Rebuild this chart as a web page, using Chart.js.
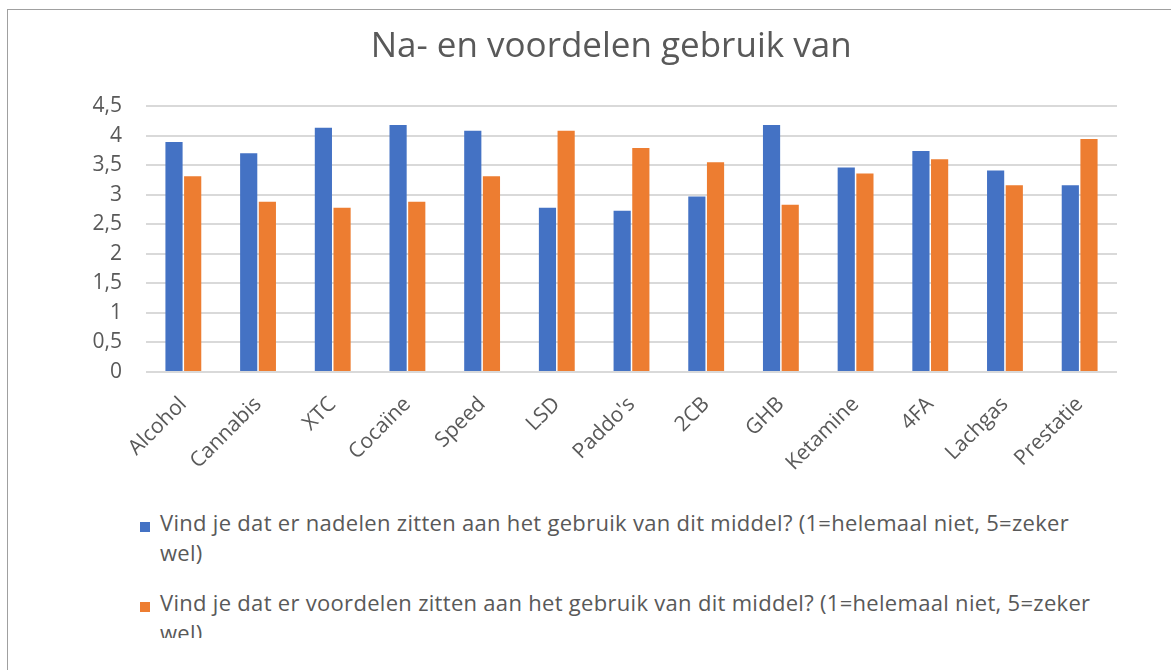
<!DOCTYPE html>
<html>
<head>
<meta charset="utf-8">
<script src="https://cdn.jsdelivr.net/npm/chart.js@4.4.1/dist/chart.umd.min.js"></script>
<style>
  body { margin: 0; background: #fff; width: 1171px; height: 670px; overflow: hidden; position: relative; }
  #frame { position: absolute; left: 7px; top: 9px; width: 1300px; height: 800px;
           border-left: 1.5px solid #a0a0a0; border-top: 1.5px solid #a0a0a0; }
  #wrap { position: absolute; left: 0; top: 0; width: 1171px; height: 472px; }
  #legend { position: absolute; left: 138px; top: 507px; width: 962px; height: 131px; overflow: hidden;
            font-family: 'Open Sans', sans-serif; font-size: 22px; letter-spacing: 0.3px; color: #595959; }
  .item { position: relative; padding-left: 22px; line-height: 30px; margin-bottom: 20px; }
  .box { position: absolute; left: 2px; top: 15px; width: 10px; height: 10px; }
</style>
</head>
<body>
<div id="frame"></div>
<div id="wrap"><canvas id="chart"></canvas></div>
<div id="legend"></div>
<script>
// categorieen en waarden
const middelen = ['Alcohol', 'Cannabis', 'XTC', 'Cocaïne', 'Speed', 'LSD', "Paddo's", '2CB', 'GHB', 'Ketamine', '4FA', 'Lachgas', 'Prestatie'];
const nadelen = [3.89, 3.70, 4.13, 4.18, 4.08, 2.78, 2.73, 2.97, 4.18, 3.46, 3.74, 3.41, 3.16];
const voordelen = [3.31, 2.88, 2.78, 2.88, 3.31, 4.08, 3.79, 3.55, 2.83, 3.36, 3.60, 3.16, 3.94];
const yTicks = [0, 0.5, 1, 1.5, 2, 2.5, 3, 3.5, 4, 4.5];

const seriesNames = [
    'Vind je dat er nadelen zitten aan het gebruik van dit middel? (1=helemaal niet, 5=zeker wel)',
    'Vind je dat er voordelen zitten aan het gebruik van dit middel? (1=helemaal niet, 5=zeker wel)',
];
const kleuren = ['#4472C4', '#ED7D31'];

const textColor = '#595959';
const fontFamily = "'Open Sans', sans-serif";

const ctx = document.getElementById('chart').getContext('2d');
const chart = new Chart(ctx, {
    type: 'bar',
    data: {
        labels: middelen,
        datasets: [nadelen, voordelen].map((values, i) => ({
            label: seriesNames[i],
            data: values,
            backgroundColor: kleuren[i],
            categoryPercentage: 0.5,
            barPercentage: 0.92,
        })),
    },
    options: {
        responsive: true,
        maintainAspectRatio: false,
        animation: false,
        layout: { padding: { left: 78, right: 54, top: 0, bottom: 0 } },
        plugins: {
            legend: { display: false },
            tooltip: { enabled: false },
            title: {
                display: true,
                // voorloopspaties schuiven de titel iets naar rechts, zoals in het origineel
                text: '   Na- en voordelen gebruik van',
                color: textColor,
                font: { family: fontFamily, size: 35, weight: 'normal' },
                padding: { top: 26, bottom: 38 },
            },
        },
        scales: {
            x: {
                grid: { display: false },
                border: { display: false },
                ticks: {
                    color: textColor,
                    font: { family: fontFamily, size: 21 },
                    minRotation: 45,
                    maxRotation: 45,
                    padding: 12,
                },
                afterFit: (scale) => { scale.height = 100; },
            },
            y: {
                min: 0,
                max: 4.5,
                border: { display: false },
                grid: { color: '#d9d9d9', lineWidth: 2, drawTicks: false },
                afterBuildTicks: (scale) => { scale.ticks = yTicks.map(v => ({ value: v })); },
                ticks: {
                    color: textColor,
                    font: { family: fontFamily, size: 21 },
                    padding: 24,
                    callback: (v) => String(v).replace('.', ','),
                },
                afterFit: (scale) => { scale.width = 68; },
            },
        },
    },
});

// legenda als tekst onder de grafiek
const legendEl = document.getElementById('legend');
chart.data.datasets.forEach((ds) => {
    const item = document.createElement('div');
    item.className = 'item';
    const box = document.createElement('span');
    box.className = 'box';
    box.style.background = ds.backgroundColor;
    item.appendChild(box);
    item.appendChild(document.createTextNode(ds.label));
    legendEl.appendChild(item);
});
</script>
</body>
</html>
